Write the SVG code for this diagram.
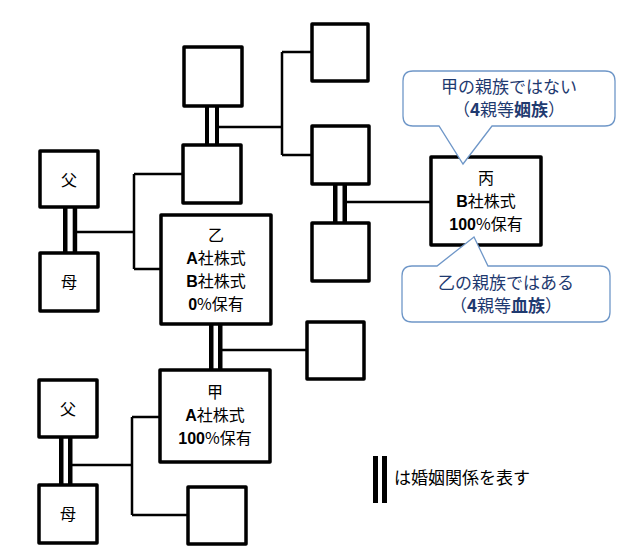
<svg xmlns="http://www.w3.org/2000/svg" width="626" height="558" viewBox="0 0 626 558">
<style>
.box{fill:#fff;stroke:#000;stroke-width:3.5;stroke-linejoin:round}
.ln{fill:none;stroke:#000;stroke-width:2.5}
.bar{fill:#000}
.t{font-family:"Noto Sans CJK JP","Noto Sans CJK SC",sans-serif;font-size:16px;fill:#000;text-anchor:middle}
.b{font-family:"Liberation Sans",Arial,sans-serif;font-weight:bold}
.co{fill:#fff;stroke:#6f97c8;stroke-width:1.3}
.ct{font-family:"Noto Sans CJK JP","Noto Sans CJK SC",sans-serif;font-size:17px;fill:#1f3a70;text-anchor:middle}
.bb{font-weight:bold}
</style>
<rect width="626" height="558" fill="#fff"/>
<g id="connectors">
<path class="ln" d="M219 127H282M282 52V155M282 52H312M282 155H312"/>
<path class="ln" d="M77 232H134M134 174V269M134 174H183M134 269H161"/>
<path class="ln" d="M222 350H307"/>
<path class="ln" d="M347 202H431"/>
<path class="ln" d="M72 465H132M132 417V515M132 417H160M132 515H188"/>
<rect class="bar" x="205" y="106" width="4" height="39"/><rect class="bar" x="215" y="106" width="4" height="39"/>
<rect class="bar" x="63" y="207" width="4.5" height="46"/><rect class="bar" x="72.7" y="207" width="4.5" height="46"/>
<rect class="bar" x="209" y="324" width="4.5" height="46"/><rect class="bar" x="218" y="324" width="4.5" height="46"/>
<rect class="bar" x="333" y="184" width="4.5" height="39"/><rect class="bar" x="342.5" y="184" width="4.5" height="39"/>
<rect class="bar" x="59" y="437" width="4.5" height="48"/><rect class="bar" x="68" y="437" width="4.5" height="48"/>
</g>
<g id="top-left"><rect class="box" x="184" y="47" width="58" height="59"/></g>
<g id="left2"><rect class="box" x="183" y="145" width="58" height="58"/></g>
<g id="right1"><rect class="box" x="312" y="24" width="56" height="57"/></g>
<g id="right2"><rect class="box" x="312" y="126" width="57" height="58"/></g>
<g id="right3"><rect class="box" x="312" y="223" width="57" height="58"/></g>
<g id="father1"><rect class="box" x="40" y="151" width="58" height="56"/><text class="t" x="69" y="186">父</text></g>
<g id="mother1"><rect class="box" x="40" y="253" width="58" height="58"/><text class="t" x="69" y="288">母</text></g>
<g id="otsu"><rect class="box" x="161" y="215" width="110" height="109"/>
<text class="t" x="216" y="241">乙</text>
<text class="t" x="216" y="264"><tspan class="b">A</tspan>社株式</text>
<text class="t" x="216" y="287"><tspan class="b">B</tspan>社株式</text>
<text class="t" x="216" y="310"><tspan class="b">0</tspan>%保有</text></g>
<g id="right-mid"><rect class="box" x="307" y="322" width="57" height="57"/></g>
<g id="kou"><rect class="box" x="160" y="370" width="110" height="92"/>
<text class="t" x="215" y="398">甲</text>
<text class="t" x="215" y="421"><tspan class="b">A</tspan>社株式</text>
<text class="t" x="215" y="444"><tspan class="b">100</tspan>%保有</text></g>
<g id="father2"><rect class="box" x="39" y="380" width="58" height="57"/><text class="t" x="68" y="415">父</text></g>
<g id="mother2"><rect class="box" x="39" y="485" width="58" height="58"/><text class="t" x="68" y="520">母</text></g>
<g id="bottom"><rect class="box" x="188" y="487" width="58" height="57"/></g>
<g id="hei"><rect class="box" x="431" y="157" width="110" height="88"/>
<text class="t" x="486" y="184">丙</text>
<text class="t" x="486" y="207"><tspan class="b">B</tspan>社株式</text>
<text class="t" x="486" y="230"><tspan class="b">100</tspan>%保有</text></g>
<g id="callout1">
<path class="co" d="M413 71H605Q615 71 615 81V116Q615 126 605 126H492L463 164L439 126H413Q403 126 403 116V81Q403 71 413 71Z"/>
<text class="ct" x="509" y="93">甲の親族ではない</text>
<text class="ct" x="509" y="116">（<tspan class="bb">4</tspan>親等<tspan class="bb">姻族</tspan>）</text>
</g>
<g id="callout2">
<path class="co" d="M412 266H437L474 237L488 266H600Q610 266 610 276V312Q610 322 600 322H412Q402 322 402 312V276Q402 266 412 266Z"/>
<text class="ct" x="506" y="289">乙の親族ではある</text>
<text class="ct" x="506" y="312">（<tspan class="bb">4</tspan>親等<tspan class="bb">血族</tspan>）</text>
</g>
<g id="legend">
<rect class="bar" x="373" y="456" width="5" height="47"/><rect class="bar" x="382" y="456" width="5" height="47"/>
<text class="t" x="394" y="484" style="text-anchor:start;font-size:17px">は婚姻関係を表す</text>
</g>
</svg>
